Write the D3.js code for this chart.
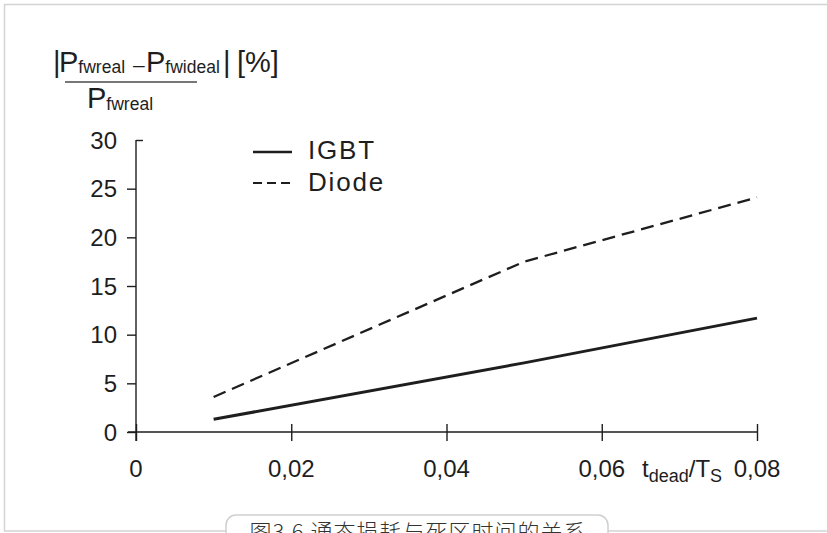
<!DOCTYPE html>
<html><head><meta charset="utf-8">
<script src="https://cdn.jsdelivr.net/npm/d3@7"></script>
<style>
html,body{margin:0;padding:0;background:#fff;overflow:hidden}
svg{display:block;font-family:"Liberation Sans",Arial,sans-serif}
</style></head>
<body>
<svg id="chart" width="827" height="533"></svg>
<script>
// ---- data ----
const xTicks = [0, 0.02, 0.04, 0.06, 0.08];
const xTickLabels = ["0", "0,02", "0,04", "0,06", "0,08"];
const yTicks = [0, 5, 10, 15, 20, 25, 30];
const yTickLabels = ["0", "5", "10", "15", "20", "25", "30"];
const deadRatio = [0.01, 0.05, 0.08];
const igbtValues = [1.3, 7.1, 11.7];
const diodeValues = [3.6, 17.5, 24.1];
const seriesNames = ["IGBT", "Diode"];
const caption = "图3.6 通态损耗与死区时间的关系";

const svg = d3.select("#chart");
const ink = "#1e1e1e";

// frame
svg.append("path").attr("d", "M827,4.5 H4.5 V531 H827")
  .attr("fill", "none").attr("stroke", "#d4d4d4").attr("stroke-width", 1.5);

const x = d3.scaleLinear().domain([0, 0.08]).range([136, 757]);
const y = d3.scaleLinear().domain([0, 30]).range([432, 140]);

// x axis
const xa = svg.append("g").attr("transform", `translate(0,${y(0)})`)
  .call(d3.axisBottom(x).tickValues(xTicks).tickSize(8).tickSizeOuter(0).tickFormat(""));
xa.selectAll(".tick line").attr("y1", -8).attr("y2", 9);
xa.selectAll("path,line").attr("stroke", ink).attr("stroke-width", 1.4);
xa.select(".domain").attr("d", `M${x(0) - 8},0H${x(0.08)}`);

// x tick labels
svg.append("g").selectAll("text").data(xTicks).join("text")
  .attr("x", d => x(d)).attr("y", 477)
  .attr("text-anchor", "middle").attr("font-size", 24).attr("fill", ink)
  .text((d, i) => xTickLabels[i]);

// y axis
const ya = svg.append("g").attr("transform", `translate(${x(0)},0)`)
  .call(d3.axisLeft(y).tickValues(yTicks).tickSize(9).tickSizeOuter(0).tickFormat(""));
ya.selectAll("path,line").attr("stroke", ink).attr("stroke-width", 1.4);
ya.selectAll(".tick").filter(d => d === 30).select("line").attr("x2", 7);
ya.select(".domain").attr("d", `M0,${y(30)}V${y(0) + 9}`);

svg.append("g").selectAll("text").data(yTicks).join("text")
  .attr("x", 117).attr("y", d => y(d)).attr("dy", "0.36em")
  .attr("text-anchor", "end").attr("font-size", 24).attr("fill", ink)
  .text((d, i) => yTickLabels[i]);

// series lines
const line = d3.line().x(d => x(d[0])).y(d => y(d[1]));
svg.append("path").datum(deadRatio.map((d, i) => [d, igbtValues[i]]))
  .attr("d", line).attr("fill", "none").attr("stroke", ink).attr("stroke-width", 3);
svg.append("path").datum(deadRatio.map((d, i) => [d, diodeValues[i]]))
  .attr("d", line).attr("fill", "none").attr("stroke", ink).attr("stroke-width", 2.3)
  .attr("stroke-dasharray", "13,7");

// legend
const leg = svg.append("g");
leg.append("line").attr("x1", 253).attr("x2", 292).attr("y1", 152).attr("y2", 152)
  .attr("stroke", ink).attr("stroke-width", 2.5);
leg.append("line").attr("x1", 253).attr("x2", 292).attr("y1", 183).attr("y2", 183)
  .attr("stroke", ink).attr("stroke-width", 2).attr("stroke-dasharray", "9,5");
leg.selectAll("text").data(seriesNames).join("text")
  .attr("x", 308).attr("y", (d, i) => 159 + i * 32)
  .attr("font-size", 26).attr("letter-spacing", 1.8).attr("fill", ink).text(d => d);

// y-axis title (fraction)
const t1 = svg.append("text").attr("y", 72).attr("fill", ink).attr("font-size", 29);
t1.append("tspan").attr("x", 53).text("|");
t1.append("tspan").attr("x", 59).text("P");
t1.append("tspan").attr("font-size", 17.5).attr("dy", 1).text("fwreal");
t1.append("tspan").attr("x", 133).attr("dy", -1).attr("font-size", 21).text("–");
t1.append("tspan").attr("x", 146).text("P");
t1.append("tspan").attr("font-size", 17.5).attr("dy", 1).text("fwideal");
t1.append("tspan").attr("x", 223).attr("dy", -1).text("|");
t1.append("tspan").attr("x", 237).text("[%]");
svg.append("line").attr("x1", 65).attr("x2", 197).attr("y1", 82).attr("y2", 82)
  .attr("stroke", "#777").attr("stroke-width", 2);
const t2 = svg.append("text").attr("y", 108).attr("fill", ink).attr("font-size", 29);
t2.append("tspan").attr("x", 87).text("P");
t2.append("tspan").attr("font-size", 17.5).attr("dy", 2).text("fwreal");

// x-axis title
const t3 = svg.append("text").attr("y", 477).attr("fill", ink).attr("font-size", 24);
t3.append("tspan").attr("x", 642).text("t");
t3.append("tspan").attr("font-size", 18).attr("dy", 5).text("dead");
t3.append("tspan").attr("dy", -5).text("/T");
t3.append("tspan").attr("font-size", 18).attr("dy", 5).text("S");

// caption box
svg.append("rect").attr("x", 226).attr("y", 515).attr("width", 382).attr("height", 40)
  .attr("rx", 10).attr("fill", "#fff").attr("stroke", "#cfcfcf").attr("stroke-width", 1.5);
svg.append("text").attr("x", 418).attr("y", 540).attr("text-anchor", "middle")
  .attr("font-family", "'Noto Sans CJK SC',sans-serif").attr("font-weight", 300)
  .attr("font-size", 22).attr("fill", "#333").attr("letter-spacing", 1).text(caption);
</script>
</body></html>
